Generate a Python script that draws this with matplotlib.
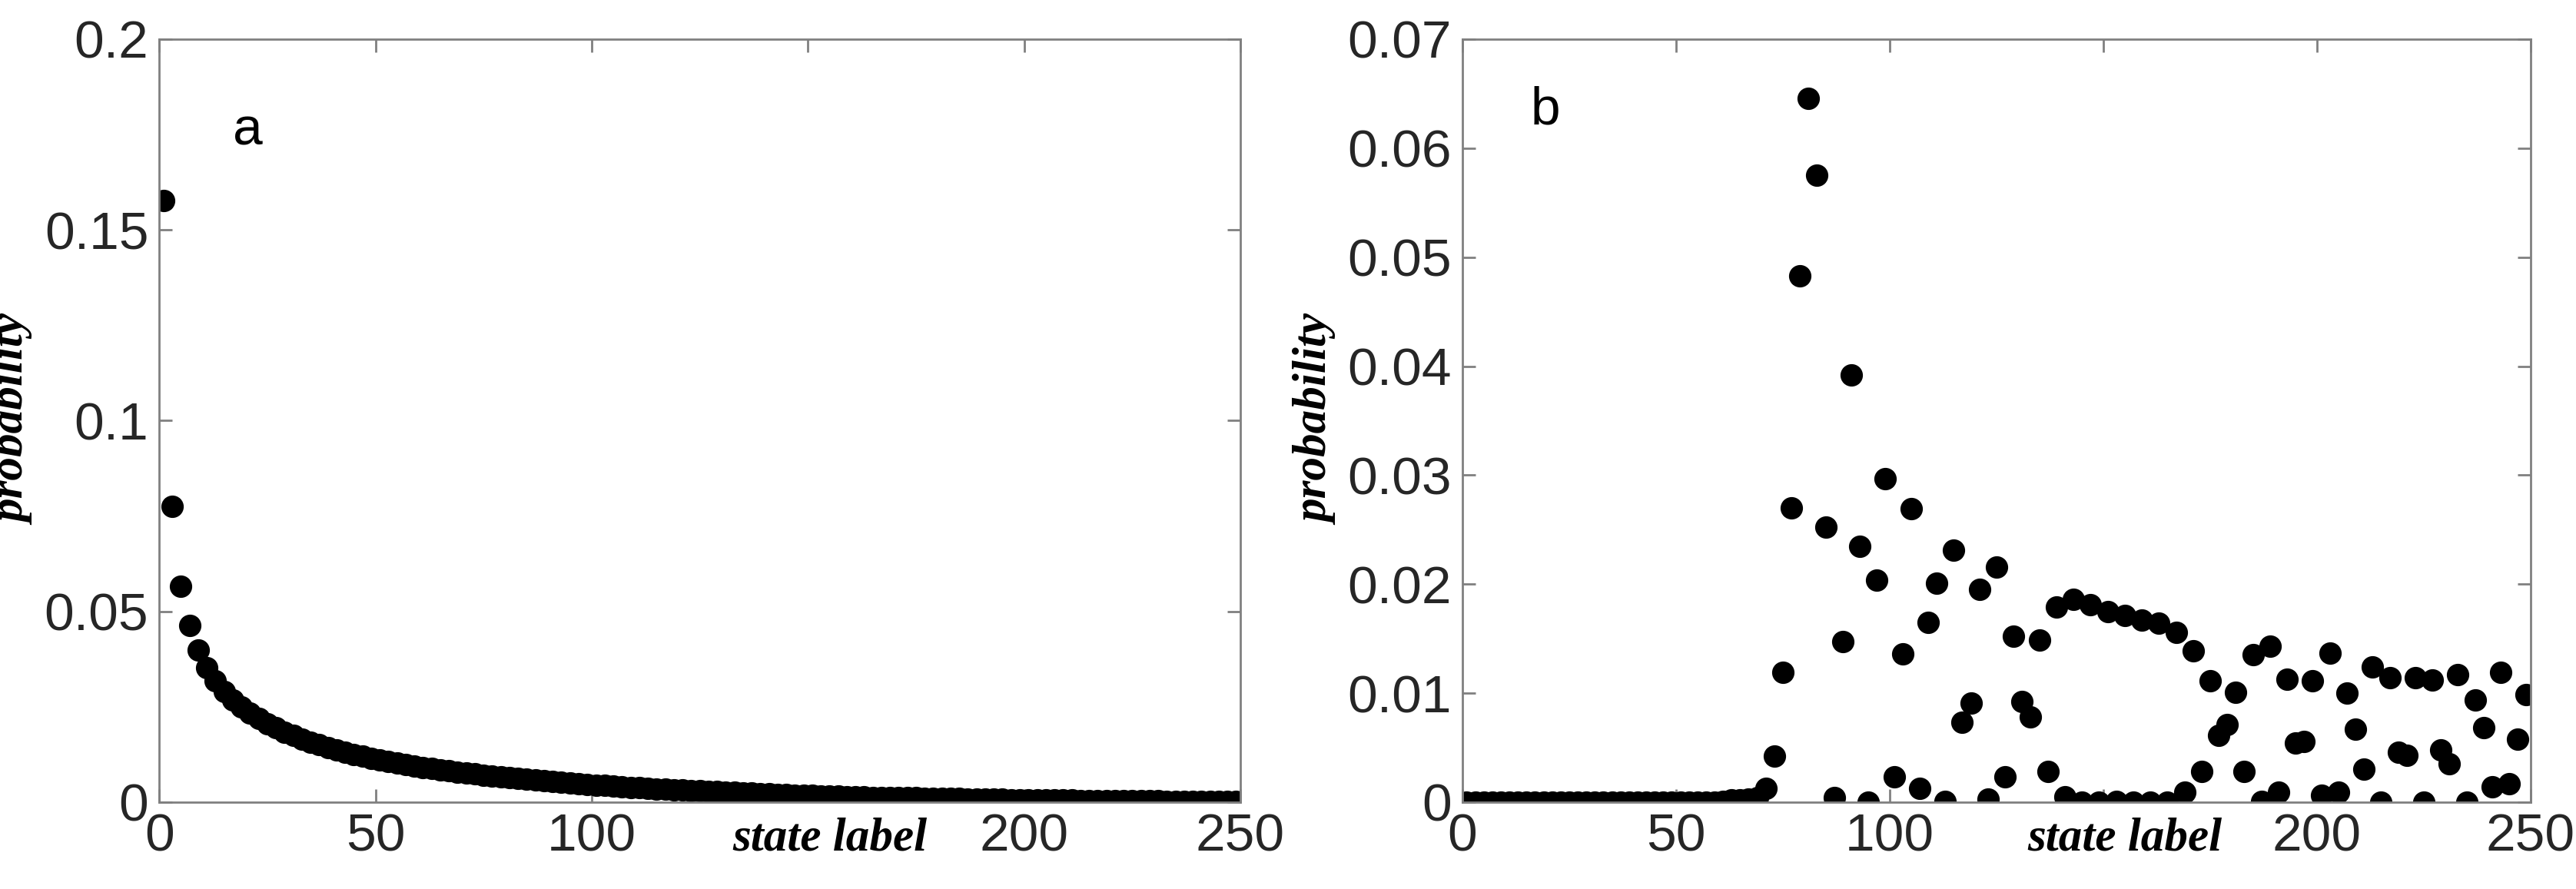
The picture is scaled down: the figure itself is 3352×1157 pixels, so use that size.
import matplotlib
matplotlib.use("Agg")
import matplotlib.pyplot as plt
import numpy as np

plt.rcParams['font.family'] = ['Liberation Sans', 'DejaVu Sans']

# state labels (odd states 1..249)
states = np.arange(1, 250, 2)

prob_a = [
    .1576, .0775, .0566, .0463, .0398, .0352, .0318, .0290, .0268, .0249,
    .0233, .0219, .0206, .0195, .0184, .0175, .0166, .0158, .0150, .0143,
    .0137, .0131, .0125, .0120, .0115, .0110, .0106, .0102, .0098, .0094,
    .0091, .0088, .0085, .0082, .0079, .0076, .0074, .0071, .0069, .0067,
    .0065, .0062, .0060, .0058, .0056, .0054, .0052, .0050, .0049, .0047,
    .0045, .0044, .0042, .0041, .0039, .0038, .0037, .0035, .0034, .0033,
    .0032, .0031, .0030, .0029, .0028, .0027, .0026, .0025, .0024, .0023,
    .0022, .0021, .0020, .0019, .0019, .0018, .0017, .0016, .0016, .0015,
    .0014, .0014, .0013, .0013, .0012, .0012, .0011, .0011, .0010, .0010,
    .0009, .0009, .0009, .0008, .0008, .0007, .0007, .0007, .0006, .0006,
    .0006, .0006, .0005, .0005, .0005, .0005, .0004, .0004, .0004, .0004,
    .0003, .0003, .0003, .0003, .0003, .0003, .0002, .0002, .0002, .0002,
    .0002, .0002, .0001, .0001, .0001,
]

prob_b = [0.0] * 30 + [.0001, .0002, .0002, .0003, .0004] + [
    .0013, .0042, .0119, .0270, .0483, .0646, .0575, .0252, .0004, .0147,
    .0392, .0235, .0000, .0204, .0297, .0023, .0136, .0269, .0013, .0165,
    .0201, .0001, .0231, .0073, .0091, .0195, .0003, .0216, .0023, .0152,
    .0092, .0078, .0149, .0028, .0179, .0005, .0186, .0000, .0181, .0000,
    .0175, .0001, .0171, .0000, .0167, .0000, .0164, .0000, .0156, .0009,
    .0139, .0028, .0111, .0061, .0071, .0101, .0028, .0135, .0001, .0143,
    .0009, .0113, .0054, .0056, .0111, .0006, .0137, .0009, .0100, .0067,
    .0030, .0124, .0000, .0114, .0046, .0043, .0114, .0000, .0112, .0048,
    .0035, .0117, .0000, .0094, .0068, .0014, .0119, .0017, .0058, .0099,
]

fig = plt.figure(figsize=(33.52, 11.57), dpi=100)
ax_a = fig.add_axes([0.0618, 0.0977, 0.4197, 0.8583])
ax_b = fig.add_axes([0.5677, 0.0977, 0.4147, 0.8583])

def style(ax, ymax, yticks, yfmt):
    ax.set_xlim(0, 250)
    ax.set_ylim(0, ymax)
    ax.set_xticks([0, 50, 100, 150, 200, 250])
    ax.set_xticklabels(["0", "50", "100", "", "200", "250"])
    ax.set_yticks(yticks)
    ax.set_yticklabels([yfmt(v) for v in yticks])
    for s in ax.spines.values():
        s.set_color("#808080")
        s.set_linewidth(2)
    ax.tick_params(direction="in", length=12, width=2, color="#808080",
                   top=True, right=True, labelsize=50, labelcolor="#262626",
                   pad=10)
    ax.text(155, -0.02 * ymax, "state label", ha="center", va="top",
            fontsize=44, family="Liberation Serif", style="italic",
            weight="bold")
    ax.set_ylabel("probability", fontsize=44, family="Liberation Serif",
                  style="italic", weight="bold", labelpad=8)

ax_a.plot(states, prob_a, "o", color="black", markersize=20)
style(ax_a, 0.2, [0, 0.05, 0.1, 0.15, 0.2],
      lambda v: "0" if v == 0 else f"{v:g}")
ax_a.text(17, 0.176, "a", fontsize=50, va="center")

ax_b.plot(states, prob_b, "o", color="black", markersize=20)
style(ax_b, 0.07, [0, 0.01, 0.02, 0.03, 0.04, 0.05, 0.06, 0.07],
      lambda v: "0" if v == 0 else f"{v:.2f}")
ax_b.text(16, 0.0635, "b", fontsize=50, va="center")

fig.savefig("out.png", dpi=100)
